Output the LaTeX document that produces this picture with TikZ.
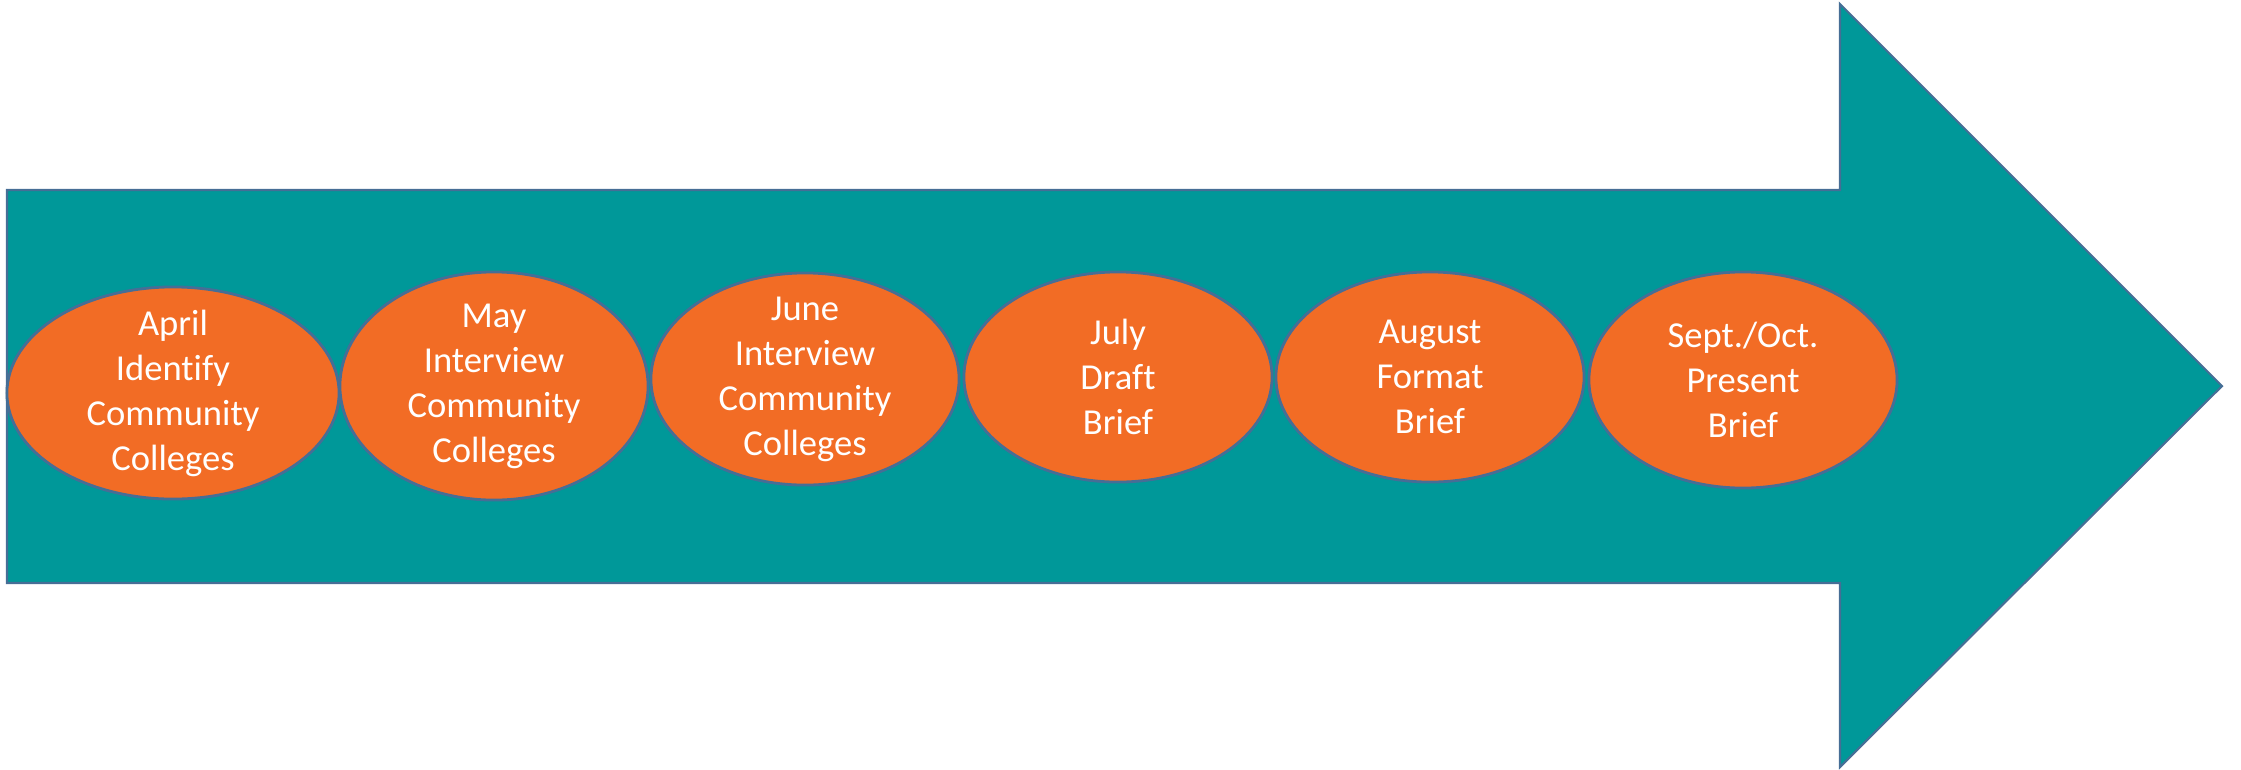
\documentclass[tikz,border=0pt]{standalone}
\usepackage{fontspec}
\setmainfont{Carlito}[Ligatures={NoCommon,NoContextual}]
\usetikzlibrary{shapes,shapes.geometric}
\usetikzlibrary{positioning}
\definecolor{teal}{RGB}{0,152,153}
\definecolor{orng}{RGB}{242,108,37}
\definecolor{rim}{RGB}{70,110,150}
\tikzset{bigarrow/.style={fill=teal,draw=rim,line width=0.6pt},
month/.style={ellipse,fill=orng,draw=rim,line width=0.8pt,inner xsep=0pt,
inner ysep=-12pt,text=white,align=center,font=\fontsize{10.4}{12.8}\selectfont},
wide/.style={month,minimum width=3.32cm,minimum height=2.14cm},
narrow/.style={month,minimum width=3.08cm,minimum height=2.12cm}}

\begin{document}
\begin{tikzpicture}[x=0.01cm,y=-0.01cm]
  \useasboundingbox (0,0) rectangle (2241,769);
  \draw [bigarrow] (7,190) -- (1840,190) -- (1840,4) -- (2222,386)
    -- (1840,767) -- (1840,583) -- (7,583) -- cycle;
  \node (apr) [wide,minimum height=2.12cm] at (173,393) {April\\Identify\\Community\\Colleges};
  \node (may) [narrow,minimum height=2.28cm] at (494,386) {May\\Interview\\Community\\Colleges};
  \node (jun) [narrow,minimum height=2.12cm] at (805,379) {June\\Interview\\Community\\Colleges};
  \node (jul) [narrow,minimum height=2.10cm] at (1118,377) {July\\Draft\\Brief};
  \node (aug) [narrow,minimum height=2.10cm] at (1430,377) {August\\Format\\Brief};
  \node (sep) [narrow,minimum height=2.16cm] at (1743,380) {Sept./Oct.\\Present\\Brief};
\end{tikzpicture}
\end{document}
